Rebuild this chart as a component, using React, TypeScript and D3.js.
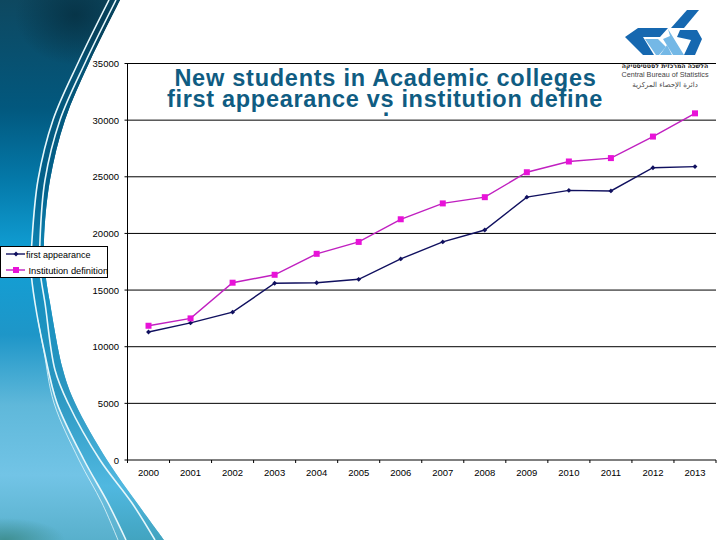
import * as d3 from 'd3';

const years = ['2000', '2001', '2002', '2003', '2004', '2005', '2006', '2007', '2008', '2009', '2010', '2011', '2012', '2013'];
const firstAppearance = [11300, 12100, 13050, 15600, 15650, 15950, 17750, 19250, 20300, 23200, 23800, 23750, 25800, 25900];
const institutionDefinition = [11850, 12500, 15650, 16350, 18200, 19250, 21250, 22650, 23200, 25400, 26350, 26650, 28550, 30600];
const yTicks = [0, 5000, 10000, 15000, 20000, 25000, 30000, 35000];
const titleLines = ['New students in Academic colleges', 'first appearance vs institution define'];

const FONT = '"Liberation Sans", Arial, sans-serif';
const NAVY = '#10105f';
const MAGENTA = '#e812d8';
const TITLE = '#0f5c82';

// plot frame
const left = 127.5, right = 716, top = 63.5, bottom = 460;

// background swoosh outlines (decoration, not data)
const edge: [number, number][] = [[120, 0], [89, 63], [65, 120], [50, 180], [44, 240], [45, 270], [50, 303], [63, 370], [75, 403], [107, 460], [137, 503], [164, 540]];
const stripeA: [number, number][] = [[116, 0], [85, 63], [60, 120], [45, 180], [40, 240], [40, 270], [45, 303], [55, 370], [68, 403], [100, 460], [132, 503], [155, 540]];
const stripeB: [number, number][] = [[109, 0], [78, 63], [53, 120], [38, 180], [32, 240], [31, 270], [35, 303], [44, 350], [57, 403], [84, 460], [108, 503], [126, 540]];
const stripeC: [number, number][] = [[38, 320], [44, 352], [54, 403], [79, 460], [102, 503], [118, 540]];

export default function App() {
  const x = d3.scaleBand<string>().domain(years).range([left, right]);
  const y = d3.scaleLinear().domain([0, 35000]).range([bottom, top]);
  const cx = (i: number) => (x(years[i]) ?? 0) + x.bandwidth() / 2;
  const line = d3.line<number>().x((_, i) => cx(i)).y((d) => y(d));
  const curve = d3.line().curve(d3.curveCatmullRom);
  const diamond = d3.symbol(d3.symbolDiamond2, 15)() ?? '';
  const square = d3.symbol(d3.symbolSquare, 36)() ?? '';
  const swoosh = `${curve(edge)} L0 540 L0 0 Z`;
  const band = `${curve(edge)} L${[...stripeB].reverse().map((p) => p.join(' ')).join(' L')} Z`;

  return (
    <svg width={720} height={540} style={{ position: 'absolute', left: 0, top: 0, fontFamily: FONT }}>
      <defs>
        <linearGradient id="bg" x1="0" y1="0" x2="0" y2="1">
          <stop offset="0" stopColor="#0e4860" />
          <stop offset="0.2" stopColor="#02587e" />
          <stop offset="0.33" stopColor="#0478a8" />
          <stop offset="0.47" stopColor="#11a0d6" />
          <stop offset="0.62" stopColor="#1e96c8" />
          <stop offset="0.75" stopColor="#5fb8da" />
          <stop offset="0.88" stopColor="#72c4e6" />
          <stop offset="1" stopColor="#58b0cc" />
        </linearGradient>
        <linearGradient id="bandFill" x1="0" y1="0" x2="0" y2="1">
          <stop offset="0" stopColor="#064a68" />
          <stop offset="0.35" stopColor="#03628c" />
          <stop offset="0.5" stopColor="#128fc0" />
          <stop offset="0.72" stopColor="#2a96c0" />
          <stop offset="0.9" stopColor="#50b8e0" />
          <stop offset="1" stopColor="#42a4c0" />
        </linearGradient>
        <radialGradient id="topDark" cx="0.5" cy="0.5" r="0.5">
          <stop offset="0" stopColor="#063245" stopOpacity={0.9} />
          <stop offset="1" stopColor="#063245" stopOpacity={0} />
        </radialGradient>
        <radialGradient id="cornerTeal" cx="0.5" cy="0.5" r="0.5">
          <stop offset="0" stopColor="#3d8c8c" stopOpacity={0.9} />
          <stop offset="1" stopColor="#3d8c8c" stopOpacity={0} />
        </radialGradient>
      </defs>
      <rect width={720} height={540} fill="#fff" />

      {/* background swoosh */}
      <path d={swoosh} fill="url(#bg)" />
      <path d={band} fill="url(#bandFill)" />
      <clipPath id="swooshClip"><path d={swoosh} /></clipPath>
      <g clipPath="url(#swooshClip)">
        <ellipse cx={75} cy={15} rx={60} ry={50} fill="url(#topDark)" />
        <ellipse cx={5} cy={540} rx={60} ry={22} fill="url(#cornerTeal)" />
      </g>
      <path d={curve(stripeA) ?? ''} fill="none" stroke="#e6f7fb" strokeWidth={1.6} />
      <path d={curve(stripeB) ?? ''} fill="none" stroke="#e6f7fb" strokeWidth={1.6} />
      <path d={curve(stripeC) ?? ''} fill="none" stroke="#e6f7fb" strokeWidth={0.8} />

      {/* gridlines and axes */}
      {yTicks.map((t) => (
        <g key={t}>
          <line x1={left - 3} x2={right} y1={y(t)} y2={y(t)} stroke="#000" strokeWidth={1} />
          <text x={119} y={y(t) + 3.5} textAnchor="end" fontSize={9.5}>{t}</text>
        </g>
      ))}
      <line x1={left} x2={left} y1={top} y2={bottom + 3} stroke="#000" />
      {years.map((yr) => (
        <g key={yr}>
          <line x1={x(yr)} x2={x(yr)} y1={bottom} y2={bottom + 3} stroke="#000" />
          <text x={(x(yr) ?? 0) + x.bandwidth() / 2} y={475.5} textAnchor="middle" fontSize={9.5}>{yr}</text>
        </g>
      ))}
      <line x1={right} x2={right} y1={bottom} y2={bottom + 3} stroke="#000" />

      {/* series */}
      <path d={line(firstAppearance) ?? ''} fill="none" stroke={NAVY} strokeWidth={1.4} />
      {firstAppearance.map((d, i) => (
        <path key={i} d={diamond} transform={`translate(${cx(i)},${y(d)})`} fill={NAVY} />
      ))}
      <path d={line(institutionDefinition) ?? ''} fill="none" stroke="#c020c0" strokeWidth={1.4} />
      {institutionDefinition.map((d, i) => (
        <path key={i} d={square} transform={`translate(${cx(i)},${y(d)})`} fill={MAGENTA} />
      ))}

      {/* title */}
      <text x={385.5} y={86} textAnchor="middle" fontSize={23.5} letterSpacing={0.75} fontWeight="bold" fill={TITLE}>{titleLines[0]}</text>
      <text x={385} y={107} textAnchor="middle" fontSize={23.5} letterSpacing={0.68} fontWeight="bold" fill={TITLE}>{titleLines[1]}</text>
      <text x={386} y={115.5} textAnchor="middle" fontSize={23.5} fontWeight="bold" fill={TITLE}>.</text>

      {/* legend */}
      <rect x={0.5} y={246.5} width={107} height={31} fill="#fff" stroke="#000" />
      <line x1={6} x2={25} y1={254} y2={254} stroke={NAVY} strokeWidth={1.4} />
      <path d={diamond} transform="translate(16,254)" fill={NAVY} />
      <text x={26} y={257.5} fontSize={9}>first appearance</text>
      <line x1={6} x2={25} y1={270} y2={270} stroke="#c020c0" strokeWidth={1.4} />
      <path d={square} transform="translate(16,270)" fill={MAGENTA} />
      <text x={28.5} y={273.5} fontSize={9.3}>Institution definition</text>

      {/* logo */}
      <g>
        <path d="M687 10 L699 10 L684 28 L671 28 Z" fill="#1668b0" />
        <path d="M625 37 L638 28 L668 28 L660 37 L643 37 L654 55 L643 55 Z" fill="#1668b0" />
        <path d="M680 30 L697 30 L702 39 L695 55 L684 55 L691 40 L677 37 Z" fill="#1668b0" />
        <path d="M645 39 L658 39 L666 47 L659 55 L656 55 Z" fill="#74b8e6" />
        <path d="M668 29 L684 55 L673 55 L663 39 L670 36 Z" fill="#74b8e6" />
        <path d="M660 55 L667 45 L672 55 Z" fill="#74b8e6" />
        <text x={665} y={67.5} textAnchor="middle" fontSize={6.2} fontWeight="bold" fontFamily="DejaVu Sans" fill="#222">הלשכה המרכזית לסטטיסטיקה</text>
        <text x={665} y={77} textAnchor="middle" fontSize={7.2} fill="#444">Central Bureau of Statistics</text>
        <text x={665} y={87} textAnchor="middle" fontSize={7} fontFamily="DejaVu Sans" fill="#444">دائرة الإحصاء المركزية</text>
      </g>
    </svg>
  );
}
